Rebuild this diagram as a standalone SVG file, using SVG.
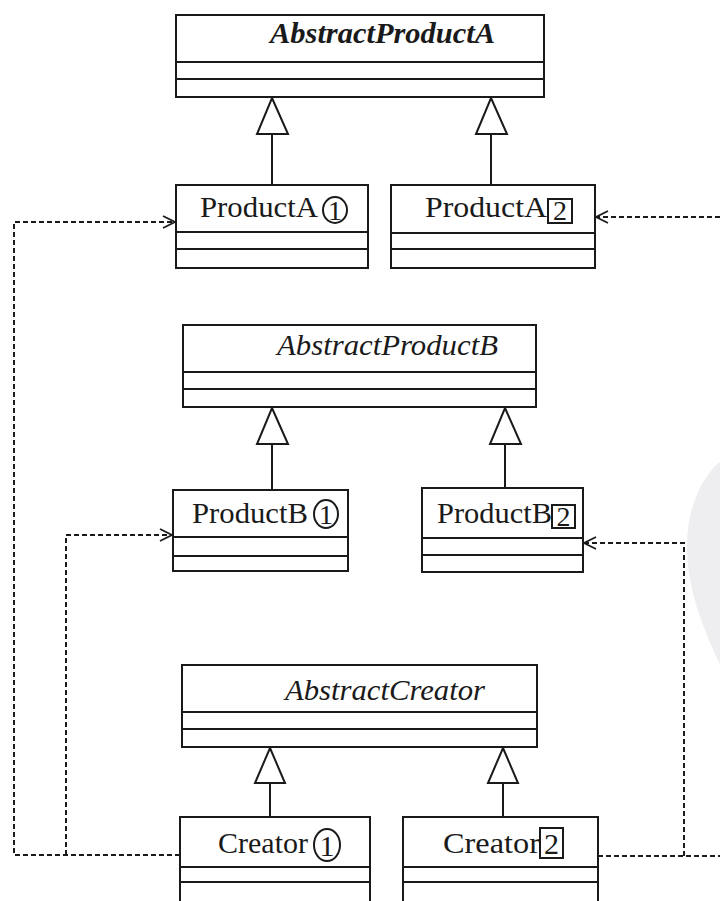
<svg xmlns="http://www.w3.org/2000/svg" width="720" height="901" viewBox="0 0 720 901">
<defs>
<style>
.box{fill:#fff;stroke:#1a1a1a;stroke-width:2}
.div{stroke:#1a1a1a;stroke-width:2}
.t{font-family:"Liberation Serif","Times New Roman",serif;font-size:30px;fill:#1a1a1a}
.it{font-style:italic}
.bi{font-style:italic;font-weight:bold}
.inh{fill:#fff;stroke:#1a1a1a;stroke-width:2}
.ln{stroke:#1a1a1a;stroke-width:2;fill:none}
.dash{stroke:#1a1a1a;stroke-width:2;fill:none;stroke-dasharray:5 3}
.mark{fill:none;stroke:#1a1a1a;stroke-width:2}
</style>
<marker id="open" viewBox="0 0 14 14" refX="13" refY="7" markerWidth="14" markerHeight="14" markerUnits="userSpaceOnUse" orient="auto">
<path d="M1,1 L13,7 L1,13" fill="none" stroke="#1a1a1a" stroke-width="1.8"/>
</marker>
</defs>
<rect width="720" height="901" fill="#fff"/>
<path d="M720,462 C702,476 687,508 687,545 C687,590 702,625 720,665 Z" fill="#eeeef0"/>

<g id="connectors">
<path class="dash" d="M180,855 H14 V222 H175" marker-end="url(#open)"/>
<path class="dash" d="M66,855 V535 H172" marker-end="url(#open)"/>
<path class="dash" d="M598,856 H720"/>
<path class="dash" d="M684,856 V543 H584" marker-end="url(#open)"/>
<path class="dash" d="M720,217 H596" marker-end="url(#open)"/>
<path class="ln" d="M272,134 V185 M491,134 V185 M272,444 V490 M505,444 V488 M270,783 V817 M503,783 V817"/>
<polygon class="inh" points="272,98 288,134 257,134"/>
<polygon class="inh" points="491,98 507,134 476,134"/>
<polygon class="inh" points="272,408 288,444 257,444"/>
<polygon class="inh" points="505,408 521,444 490,444"/>
<polygon class="inh" points="270,748 285,783 255,783"/>
<polygon class="inh" points="503,748 518,783 488,783"/>
</g>

<g id="AbstractProductA">
<rect class="box" x="176" y="15" width="368" height="82"/>
<path class="div" d="M176,62 H544 M176,79 H544"/>
<text class="t bi" x="270" y="43" textLength="225" lengthAdjust="spacingAndGlyphs">AbstractProductA</text>
</g>

<g id="ProductA1">
<rect class="box" x="176" y="185" width="192" height="83"/>
<path class="div" d="M176,232 H368 M176,249 H368"/>
<text class="t" x="200" y="217" textLength="118" lengthAdjust="spacingAndGlyphs">ProductA</text>
<ellipse class="mark" cx="335" cy="210" rx="12" ry="13"/>
<text class="t" x="335" y="220" text-anchor="middle" style="font-size:28px">1</text>
</g>

<g id="ProductA2">
<rect class="box" x="391" y="185" width="204" height="83"/>
<path class="div" d="M391,233 H595 M391,249 H595"/>
<text class="t" x="425" y="217" textLength="122" lengthAdjust="spacingAndGlyphs">ProductA</text>
<rect class="mark" x="548" y="199" width="24" height="24"/>
<text class="t" x="560" y="220" text-anchor="middle" style="font-size:28px">2</text>
</g>

<g id="AbstractProductB">
<rect class="box" x="183" y="325" width="353" height="82"/>
<path class="div" d="M183,372 H536 M183,389 H536"/>
<text class="t it" x="277" y="355" textLength="221" lengthAdjust="spacingAndGlyphs">AbstractProductB</text>
</g>

<g id="ProductB1">
<rect class="box" x="173" y="490" width="175" height="81"/>
<path class="div" d="M173,537 H348 M173,556 H348"/>
<text class="t" x="192" y="523" textLength="116" lengthAdjust="spacingAndGlyphs">ProductB</text>
<ellipse class="mark" cx="326" cy="514" rx="12" ry="14"/>
<text class="t" x="326" y="524" text-anchor="middle" style="font-size:28px">1</text>
</g>

<g id="ProductB2">
<rect class="box" x="422" y="488" width="161" height="84"/>
<path class="div" d="M422,538 H583 M422,555 H583"/>
<text class="t" x="437" y="523" textLength="115" lengthAdjust="spacingAndGlyphs">ProductB</text>
<rect class="mark" x="552" y="505" width="23" height="23"/>
<text class="t" x="563.5" y="526" text-anchor="middle" style="font-size:28px">2</text>
</g>

<g id="AbstractCreator">
<rect class="box" x="182" y="665" width="355" height="82"/>
<path class="div" d="M182,712 H537 M182,729 H537"/>
<text class="t it" x="285" y="700" textLength="200" lengthAdjust="spacingAndGlyphs">AbstractCreator</text>
</g>

<g id="Creator1">
<rect class="box" x="180" y="817" width="190" height="95"/>
<path class="div" d="M180,867 H370 M180,882 H370"/>
<text class="t" x="218" y="853" textLength="90" lengthAdjust="spacingAndGlyphs">Creator</text>
<ellipse class="mark" cx="327" cy="845" rx="13" ry="16"/>
<text class="t" x="327" y="856" text-anchor="middle" style="font-size:30px">1</text>
</g>

<g id="Creator2">
<rect class="box" x="403" y="817" width="195" height="95"/>
<path class="div" d="M403,867 H598 M403,882 H598"/>
<text class="t" x="443" y="853" textLength="97" lengthAdjust="spacingAndGlyphs">Creator</text>
<rect class="mark" x="540" y="828" width="23" height="30"/>
<text class="t" x="551.5" y="854" text-anchor="middle" style="font-size:30px">2</text>
</g>
</svg>
